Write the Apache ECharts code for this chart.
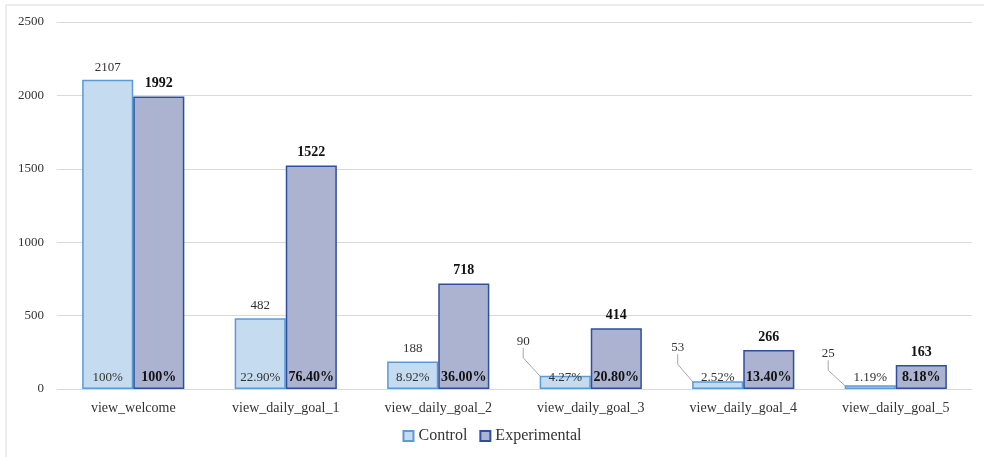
<!DOCTYPE html>
<html>
<head>
<meta charset="utf-8">
<script src="https://cdn.jsdelivr.net/npm/echarts@6/dist/echarts.min.js"></script>
<style>
  html, body { margin: 0; padding: 0; background: #fff; }
  #chart { width: 984px; height: 457px; }
</style>
</head>
<body>
<div id="chart"></div>
<script>
const categories = ['view_welcome', 'view_daily_goal_1', 'view_daily_goal_2', 'view_daily_goal_3', 'view_daily_goal_4', 'view_daily_goal_5']
const controlValues = [2107, 482, 188, 90, 53, 25]
const experimentalValues = [1992, 1522, 718, 414, 266, 163]
const controlPct = ['100%', '22.90%', '8.92%', '4.27%', '2.52%', '1.19%']
const experimentalPct = ['100%', '76.40%', '36.00%', '20.80%', '13.40%', '8.18%']
const yTicks = [0, 500, 1000, 1500, 2000, 2500]

const font = '"Liberation Serif", "Times New Roman", serif'
const controlColor = '#c5dbf0'
const controlBorder = '#5b9bd5'
const expColor = '#abb3d0'
const expBorder = '#2f4f9e'

// small control bars get their value label pushed up-left with a leader line
const movedLabels = { 3: [-42, -22], 4: [-40, -21], 5: [-42, -19] }

const chart = echarts.init(document.getElementById('chart'))

const controlData = controlValues.map((v, i) => ({
  value: v,
  labelLine: { show: !!movedLabels[i] }
}))

const option = {
  animation: false,
  textStyle: { fontFamily: font },
  graphic: [{
    type: 'rect',
    shape: { x: 6, y: 5, width: 990, height: 470 },
    style: { fill: 'none', stroke: '#d9d9d9', lineWidth: 1 },
    silent: true
  }],
  grid: { left: 57, right: 12, top: 22, bottom: 68 },
  legend: {
    data: ['Control', 'Experimental'],
    bottom: 8,
    left: 'center',
    itemWidth: 10,
    itemHeight: 10,
    itemGap: 12,
    icon: 'rect',
    textStyle: { fontFamily: font, fontSize: 16, color: '#333' }
  },
  xAxis: [{
    type: 'category',
    data: categories,
    axisLine: { lineStyle: { color: '#d9d9d9' } },
    axisTick: { show: false },
    axisLabel: { fontFamily: font, fontSize: 14, color: '#333', margin: 12 }
  }, {
    type: 'category',
    data: categories,
    show: false
  }],
  yAxis: {
    type: 'value',
    min: yTicks[0],
    max: yTicks[yTicks.length - 1],
    interval: 500,
    axisLine: { show: false },
    axisTick: { show: false },
    splitLine: { lineStyle: { color: '#d9d9d9' } },
    axisLabel: { fontFamily: font, fontSize: 13, color: '#333', margin: 13, formatter: (v) => String(v) }
  },
  series: [
    {
      name: 'Control',
      type: 'bar',
      data: controlData,
      barGap: '0%',
      barCategoryGap: '33%',
      itemStyle: { color: controlColor, borderColor: controlBorder, borderWidth: 1.5 },
      label: {
        show: true,
        position: 'top',
        distance: 6,
        fontFamily: font,
        fontSize: 13,
        color: '#333'
      },
      labelLine: { show: false, length2: 10, lineStyle: { color: '#a6a6a6', width: 1 } },
      labelLayout: (params) => {
        const m = movedLabels[params.dataIndex]
        return m ? { dx: m[0], dy: m[1] } : {}
      }
    },
    {
      name: 'Experimental',
      type: 'bar',
      data: experimentalValues,
      barGap: '0%',
      barCategoryGap: '33%',
      itemStyle: { color: expColor, borderColor: expBorder, borderWidth: 1.5 },
      label: {
        show: true,
        position: 'top',
        distance: 6,
        fontFamily: font,
        fontSize: 14,
        fontWeight: 'bold',
        color: '#111'
      }
    },
    {
      name: 'ControlPct',
      type: 'bar',
      xAxisIndex: 1,
      data: controlValues,
      barGap: '0%',
      barCategoryGap: '33%',
      silent: true,
      itemStyle: { color: 'rgba(0,0,0,0)' },
      label: {
        show: true,
        position: 'insideBottom',
        distance: 5,
        fontFamily: font,
        fontSize: 13,
        color: '#333',
        formatter: (p) => controlPct[p.dataIndex]
      }
    },
    {
      name: 'ExperimentalPct',
      type: 'bar',
      xAxisIndex: 1,
      data: experimentalValues,
      barGap: '0%',
      barCategoryGap: '33%',
      silent: true,
      itemStyle: { color: 'rgba(0,0,0,0)' },
      label: {
        show: true,
        position: 'insideBottom',
        distance: 5,
        fontFamily: font,
        fontSize: 14,
        fontWeight: 'bold',
        color: '#111',
        formatter: (p) => experimentalPct[p.dataIndex]
      }
    }
  ]
}

chart.setOption(option)
</script>
</body>
</html>
